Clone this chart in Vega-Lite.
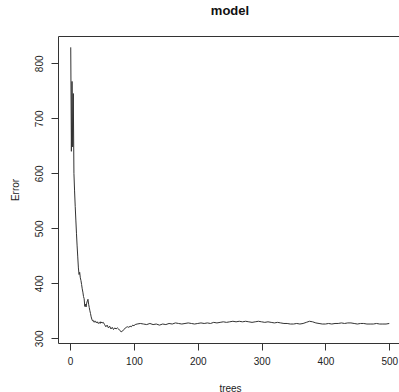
{
  "$schema": "https://vega.github.io/schema/vega-lite/v6.json",
  "autosize": "none",
  "padding": {"left": 58, "top": 36, "right": 0, "bottom": 49},
  "width": 344,
  "height": 307,
  "background": "white",
  "title": {"text": "model", "font": "Liberation Sans", "fontSize": 13, "fontWeight": "bold", "color": "#111", "anchor": "middle", "offset": 18},
  "config": {
    "view": {"stroke": "#333", "strokeWidth": 1},
    "axis": {"labelFont": "Liberation Sans", "titleFont": "Liberation Sans", "labelFontSize": 10, "titleFontSize": 10, "titleFontWeight": "normal", "labelColor": "#222", "titleColor": "#222", "tickColor": "#333", "domain": false, "grid": false, "tickSize": 7}
  },
  "data": {"values": [
    {"trees": 1, "Error": 829}, {"trees": 2, "Error": 640}, {"trees": 3, "Error": 767}, {"trees": 4, "Error": 648},
    {"trees": 5, "Error": 745}, {"trees": 6, "Error": 600}, {"trees": 7, "Error": 568}, {"trees": 8, "Error": 540},
    {"trees": 9, "Error": 515}, {"trees": 10, "Error": 490}, {"trees": 11, "Error": 468}, {"trees": 12, "Error": 448},
    {"trees": 13, "Error": 428}, {"trees": 14, "Error": 416}, {"trees": 15, "Error": 420}, {"trees": 16, "Error": 410},
    {"trees": 17, "Error": 405}, {"trees": 18, "Error": 398}, {"trees": 19, "Error": 390}, {"trees": 20, "Error": 384},
    {"trees": 21, "Error": 376}, {"trees": 22, "Error": 372}, {"trees": 23, "Error": 358}, {"trees": 24, "Error": 362},
    {"trees": 25, "Error": 357}, {"trees": 26, "Error": 364}, {"trees": 27, "Error": 368}, {"trees": 28, "Error": 371},
    {"trees": 29, "Error": 362}, {"trees": 30, "Error": 356}, {"trees": 31, "Error": 350}, {"trees": 32, "Error": 345},
    {"trees": 33, "Error": 339}, {"trees": 34, "Error": 335}, {"trees": 35, "Error": 332}, {"trees": 36, "Error": 333},
    {"trees": 37, "Error": 330}, {"trees": 38, "Error": 331}, {"trees": 39, "Error": 329}, {"trees": 40, "Error": 331},
    {"trees": 41, "Error": 330}, {"trees": 42, "Error": 328}, {"trees": 43, "Error": 330}, {"trees": 44, "Error": 327},
    {"trees": 45, "Error": 328}, {"trees": 46, "Error": 329}, {"trees": 47, "Error": 327}, {"trees": 48, "Error": 330},
    {"trees": 50, "Error": 328}, {"trees": 52, "Error": 329}, {"trees": 54, "Error": 325}, {"trees": 56, "Error": 321},
    {"trees": 58, "Error": 324}, {"trees": 60, "Error": 319}, {"trees": 62, "Error": 322}, {"trees": 64, "Error": 317},
    {"trees": 66, "Error": 320}, {"trees": 68, "Error": 316}, {"trees": 70, "Error": 319}, {"trees": 72, "Error": 317},
    {"trees": 74, "Error": 319}, {"trees": 76, "Error": 317}, {"trees": 78, "Error": 314}, {"trees": 80, "Error": 312},
    {"trees": 82, "Error": 313}, {"trees": 84, "Error": 316}, {"trees": 86, "Error": 318}, {"trees": 88, "Error": 320},
    {"trees": 90, "Error": 321}, {"trees": 92, "Error": 320}, {"trees": 94, "Error": 322}, {"trees": 96, "Error": 321},
    {"trees": 98, "Error": 324}, {"trees": 100, "Error": 323}, {"trees": 102, "Error": 325}, {"trees": 105, "Error": 326},
    {"trees": 110, "Error": 327}, {"trees": 115, "Error": 326}, {"trees": 120, "Error": 325}, {"trees": 125, "Error": 327},
    {"trees": 130, "Error": 325}, {"trees": 135, "Error": 326}, {"trees": 140, "Error": 324}, {"trees": 145, "Error": 326},
    {"trees": 150, "Error": 325}, {"trees": 155, "Error": 327}, {"trees": 160, "Error": 326}, {"trees": 165, "Error": 328},
    {"trees": 170, "Error": 327}, {"trees": 175, "Error": 326}, {"trees": 180, "Error": 327}, {"trees": 185, "Error": 328},
    {"trees": 190, "Error": 327}, {"trees": 195, "Error": 326}, {"trees": 200, "Error": 327}, {"trees": 205, "Error": 328},
    {"trees": 210, "Error": 327}, {"trees": 215, "Error": 328}, {"trees": 220, "Error": 327}, {"trees": 225, "Error": 329},
    {"trees": 230, "Error": 328}, {"trees": 235, "Error": 329}, {"trees": 240, "Error": 330}, {"trees": 245, "Error": 329},
    {"trees": 250, "Error": 330}, {"trees": 255, "Error": 331}, {"trees": 260, "Error": 330}, {"trees": 265, "Error": 331},
    {"trees": 270, "Error": 330}, {"trees": 275, "Error": 331}, {"trees": 280, "Error": 330}, {"trees": 285, "Error": 329},
    {"trees": 290, "Error": 330}, {"trees": 295, "Error": 331}, {"trees": 300, "Error": 330}, {"trees": 305, "Error": 329},
    {"trees": 310, "Error": 330}, {"trees": 315, "Error": 329}, {"trees": 320, "Error": 328}, {"trees": 325, "Error": 329},
    {"trees": 330, "Error": 328}, {"trees": 335, "Error": 327}, {"trees": 340, "Error": 327}, {"trees": 345, "Error": 326},
    {"trees": 350, "Error": 326}, {"trees": 355, "Error": 327}, {"trees": 360, "Error": 326}, {"trees": 365, "Error": 327},
    {"trees": 370, "Error": 329}, {"trees": 375, "Error": 331}, {"trees": 380, "Error": 330}, {"trees": 385, "Error": 328},
    {"trees": 390, "Error": 327}, {"trees": 395, "Error": 326}, {"trees": 400, "Error": 326}, {"trees": 405, "Error": 327},
    {"trees": 410, "Error": 326}, {"trees": 415, "Error": 327}, {"trees": 420, "Error": 327}, {"trees": 425, "Error": 328},
    {"trees": 430, "Error": 327}, {"trees": 435, "Error": 328}, {"trees": 440, "Error": 328}, {"trees": 445, "Error": 327},
    {"trees": 450, "Error": 326}, {"trees": 455, "Error": 327}, {"trees": 460, "Error": 327}, {"trees": 465, "Error": 326},
    {"trees": 470, "Error": 326}, {"trees": 475, "Error": 326}, {"trees": 480, "Error": 327}, {"trees": 485, "Error": 326},
    {"trees": 490, "Error": 326}, {"trees": 495, "Error": 326}, {"trees": 500, "Error": 327}
  ]},
  "mark": {"type": "line", "color": "#333", "strokeWidth": 1, "clip": true},
  "encoding": {
    "x": {"field": "trees", "type": "quantitative", "scale": {"domain": [-18.96, 519.96], "nice": false, "zero": false},
      "axis": {"values": [0, 100, 200, 300, 400, 500], "title": "trees", "labelPadding": 6, "titlePadding": 17, "labelFlush": false}},
    "y": {"field": "Error", "type": "quantitative", "scale": {"domain": [291.5, 849.6], "nice": false, "zero": false},
      "axis": {"values": [300, 400, 500, 600, 700, 800], "title": "Error", "labelAngle": -90, "labelAlign": "center", "labelBaseline": "bottom", "labelPadding": 7, "titlePadding": 14, "labelFlush": false}}
  }
}
